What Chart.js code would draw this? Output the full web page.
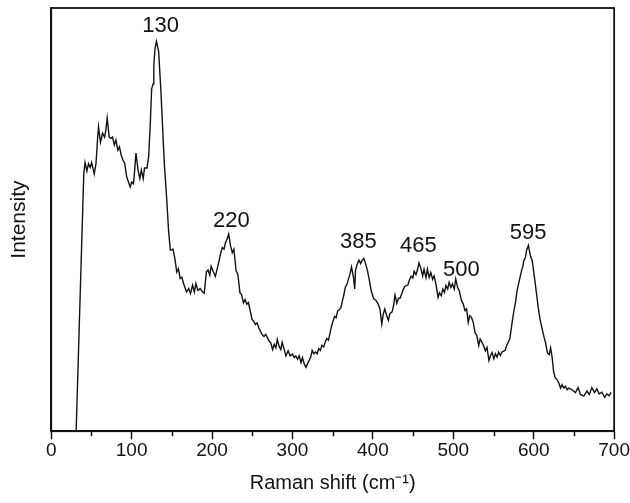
<!DOCTYPE html>
<html>
<head>
<meta charset="utf-8">
<script src="https://cdn.jsdelivr.net/npm/chart.js@4.4.0/dist/chart.umd.min.js"></script>
<style>
  html, body { margin: 0; padding: 0; background: #fff; }
</style>
</head>
<body>
<canvas id="raman" width="630" height="503"></canvas>
<script>
// Raman spectrum; intensity in arbitrary units (0-100)
const ramanShift = [
    31, 40.5, 42.1, 44.4, 46.4, 48.5, 50.3, 53.5, 55.7, 57.8,
    58.8, 61.3, 63.8, 66.4, 67.9, 69.6, 72.1, 74.3, 76.3, 78.5,
    80.5, 82.9, 84.8, 87.1, 89.3, 91.3, 93.9, 96.1, 98.2, 100.1,
    102.3, 103.8, 105.4, 108.0, 110.2, 112.1, 114.4, 116.1, 119.1, 121.2,
    123.1, 124.9, 126.8, 127.6, 129.2, 130.9, 133.6, 136.5, 140.6, 143.7,
    145.9, 148.1, 151.4, 153.8, 156.1, 158.1, 160.4, 162.4, 164.6, 168.2,
    171.0, 173.2, 175.8, 178.0, 179.9, 182.4, 185.3, 188.2, 190.3, 193.0,
    195.0, 197.2, 198.9, 201.3, 204.1, 207.2, 209.1, 210.9, 212.8, 214.9,
    216.8, 218.7, 220.7, 223.0, 225.2, 227.2, 229.9, 232.1, 234.7, 236.7,
    239.0, 241.1, 243.2, 245.2, 247.5, 249.7, 251.8, 254.0, 256.0, 258.2,
    260.3, 262.5, 264.6, 266.7, 268.8, 270.9, 273.0, 275.3, 277.3, 279.4,
    281.1, 283.3, 285.5, 287.2, 289.6, 291.9, 294.6, 297.2, 300.0, 302.2,
    304.2, 306.3, 308.3, 310.6, 312.4, 314.7, 316.9, 318.7, 320.7, 322.7,
    324.5, 326.7, 328.7, 330.8, 332.7, 334.8, 336.6, 338.8, 340.8, 342.6,
    344.8, 346.6, 348.4, 350.4, 352.3, 354.3, 356.2, 358.3, 360.2, 362.1,
    364.0, 365.7, 367.7, 369.7, 371.5, 373.4, 375.8, 377.4, 378.4, 380.7,
    382.7, 384.7, 386.7, 388.8, 390.9, 393.2, 395.6, 397.8, 401.0, 403.9,
    406.4, 408.7, 411.1, 412.9, 414.8, 417.0, 419.3, 421.1, 423.9, 425.8,
    427.5, 429.8, 431.8, 433.8, 437.7, 439.5, 443.7, 445.5, 447.5, 449.6,
    451.4, 453.6, 455.5, 457.3, 459.5, 461.9, 463.6, 466.0, 467.8, 470.0,
    472.0, 474.3, 476.1, 478.5, 481.0, 482.8, 485.1, 486.9, 489.0, 490.8,
    493.0, 494.8, 497.0, 499.0, 501.2, 503.0, 505.3, 507.4, 510.1, 512.3,
    514.5, 516.5, 518.6, 520.4, 522.6, 524.8, 527.0, 529.2, 531.6, 533.4,
    535.6, 537.8, 539.9, 541.9, 544.3, 546.2, 548.2, 550.4, 552.3, 554.4,
    556.4, 558.5, 560.5, 564.5, 566.4, 568.5, 570.3, 572.1, 573.9, 575.6,
    577.5, 579.2, 581.0, 582.9, 584.8, 586.6, 587.7, 589.7, 591.1, 593.4,
    595.8, 598.1, 600.4, 603.0, 605.6, 607.9, 610.2, 612.6, 614.7, 617.1,
    619.3, 621.0, 623.0, 624.7, 626.8, 629.0, 631.2, 633.3, 635.2, 637.5,
    639.4, 641.6, 643.6, 647.7, 651.9, 655.1, 658.1, 662.3, 666.2, 669.1,
    672.3, 675.7, 678.5, 681.4, 684.7, 688.2, 690.9, 693.8, 696.2
];
const intensity = [
    0, 60.8, 63.5, 61.5, 63.2, 62.3, 63.5, 60.8, 63.2, 69.5,
    71.9, 68.3, 70.4, 69.5, 71.1, 74.0, 69.5, 69.2, 69.5, 67.6,
    68.8, 66.4, 67.2, 65.2, 64.1, 63.3, 60.1, 58.9, 57.7, 58.9,
    58.5, 61.7, 65.7, 61.7, 59.7, 61.7, 59.7, 62.2, 62.2, 64.9,
    72.1, 80.9, 82.1, 86.5, 90.5, 92.1, 89.7, 80.1, 63.4, 54.7,
    47.5, 42.8, 43.0, 40.8, 37.6, 38.4, 36.1, 36.4, 34.9, 32.9,
    33.7, 32.5, 34.5, 32.9, 34.9, 33.3, 33.7, 32.9, 32.6, 37.7,
    38.1, 36.9, 39.0, 37.8, 36.6, 39.0, 40.6, 42.2, 43.4, 43.0,
    44.6, 45.4, 46.6, 43.8, 42.2, 43.0, 37.9, 37.1, 32.7, 32.3,
    30.3, 31.1, 30.0, 30.4, 28.4, 26.4, 26.0, 25.2, 25.6, 24.4,
    23.6, 22.8, 22.4, 22.9, 22.1, 21.3, 20.9, 19.3, 20.5, 19.7,
    21.7, 20.1, 19.3, 21.0, 19.4, 17.8, 19.0, 17.8, 18.2, 17.4,
    17.8, 17.0, 17.8, 16.2, 17.4, 15.9, 15.1, 15.9, 16.7, 17.5,
    19.1, 18.3, 18.7, 18.3, 19.5, 19.1, 20.3, 19.9, 21.1, 21.9,
    21.5, 23.1, 24.7, 26.0, 27.1, 26.8, 28.4, 28.7, 29.2, 30.8,
    32.3, 34.0, 34.7, 36.0, 37.1, 38.8, 36.4, 33.6, 38.0, 39.6,
    40.4, 39.6, 40.4, 40.8, 39.6, 38.0, 35.7, 33.3, 31.3, 30.9,
    30.1, 28.9, 25.3, 27.7, 28.9, 27.4, 26.2, 27.8, 28.2, 29.8,
    32.2, 30.2, 31.4, 31.4, 33.4, 34.2, 34.6, 35.8, 36.6, 36.2,
    37.8, 37.0, 38.2, 39.8, 38.6, 36.7, 38.3, 36.3, 38.3, 36.3,
    37.5, 35.9, 36.7, 34.7, 31.6, 32.7, 32.0, 33.6, 32.8, 34.4,
    33.6, 35.2, 34.0, 34.8, 33.6, 36.0, 34.0, 33.2, 30.9, 30.1,
    28.5, 28.9, 25.7, 27.3, 26.9, 25.7, 23.3, 22.6, 20.2, 21.8,
    21.0, 20.2, 19.0, 19.8, 16.7, 17.9, 18.6, 17.1, 18.3, 17.5,
    18.7, 17.9, 18.7, 19.1, 20.3, 21.1, 21.9, 24.3, 26.7, 28.7,
    30.7, 33.1, 34.7, 36.3, 37.9, 39.1, 40.3, 41.1, 42.7, 43.9,
    41.5, 40.3, 37.1, 33.2, 29.2, 26.4, 24.4, 22.4, 20.9, 18.5,
    18.1, 19.7, 17.3, 14.1, 12.6, 12.2, 11.4, 10.2, 11.0, 10.2,
    10.6, 9.8, 10.2, 9.8, 9.1, 10.3, 8.7, 8.3, 9.5, 8.7,
    10.3, 9.1, 10.0, 8.8, 9.2, 8.0, 8.8, 8.4, 9.2
];

// peak annotations: the text and where its centre sits (shift, intensity)
const peakLabels = ['130', '220', '385', '465', '500', '595'];
const peakLabelShift = [136, 224, 382, 456.5, 510, 593];
const peakLabelLevel = [95.7, 49.8, 44.7, 43.8, 38.2, 46.9];

const FONT = "'Liberation Sans', Arial, Helvetica, sans-serif";
const INK = '#121212';

// box round the plot, the short minor ticks and the peak numbers
const frameAndLabels = {
    id: 'frameAndLabels',
    afterDatasetsDraw(chart) {
        const { ctx, chartArea, scales } = chart;
        const xs = scales.x;
        ctx.save();
        ctx.strokeStyle = INK;
        ctx.lineWidth = 1.8;
        ctx.strokeRect(chartArea.left, chartArea.top, chartArea.right - chartArea.left, chartArea.bottom - chartArea.top);

        ctx.lineWidth = 1.5;
        ctx.beginPath();
        for (let v = xs.min + 50; v < xs.max; v += 100) {
            const x = Math.round(xs.getPixelForValue(v)) + 0.5;
            ctx.moveTo(x, chartArea.bottom);
            ctx.lineTo(x, chartArea.bottom + 5);
        }
        ctx.stroke();

        ctx.fillStyle = INK;
        ctx.font = '22px ' + FONT;
        ctx.textAlign = 'center';
        ctx.textBaseline = 'middle';
        peakLabels.forEach((txt, i) => {
            ctx.fillText(txt, xs.getPixelForValue(peakLabelShift[i]), scales.y.getPixelForValue(peakLabelLevel[i]));
        });
        ctx.restore();
    }
};

new Chart(document.getElementById('raman').getContext('2d'), {
    type: 'line',
    data: {
        datasets: [{
            data: ramanShift.map((x, i) => ({ x: x, y: intensity[i] })),
            borderColor: INK,
            borderWidth: 1.4,
            pointRadius: 0,
            tension: 0,
            fill: false
        }]
    },
    options: {
        responsive: false,
        animation: false,
        events: [],
        layout: { padding: { left: 7, right: 14, top: 8, bottom: 8 } },
        plugins: {
            legend: { display: false },
            tooltip: { enabled: false }
        },
        scales: {
            x: {
                type: 'linear',
                min: 0,
                max: 700,
                ticks: {
                    stepSize: 100,
                    autoSkip: false,
                    maxRotation: 0,
                    padding: 0,
                    color: INK,
                    font: { family: FONT, size: 19 }
                },
                grid: {
                    drawOnChartArea: false,
                    drawTicks: true,
                    tickLength: 8,
                    tickWidth: 1.5,
                    tickColor: INK
                },
                border: { color: INK, width: 1.8 },
                title: {
                    display: true,
                    text: 'Raman shift (cm\u207B\u00B9)',
                    color: INK,
                    font: { family: FONT, size: 20 },
                    padding: { top: 9, bottom: 0 }
                }
            },
            y: {
                min: 0,
                max: 100,
                ticks: { display: false },
                grid: { display: false, drawTicks: false },
                border: { color: INK, width: 1.8 },
                title: {
                    display: true,
                    text: 'Intensity',
                    color: INK,
                    font: { family: FONT, size: 21 },
                    padding: { top: 0, bottom: 19 }
                }
            }
        }
    },
    plugins: [frameAndLabels]
});
</script>
</body>
</html>
